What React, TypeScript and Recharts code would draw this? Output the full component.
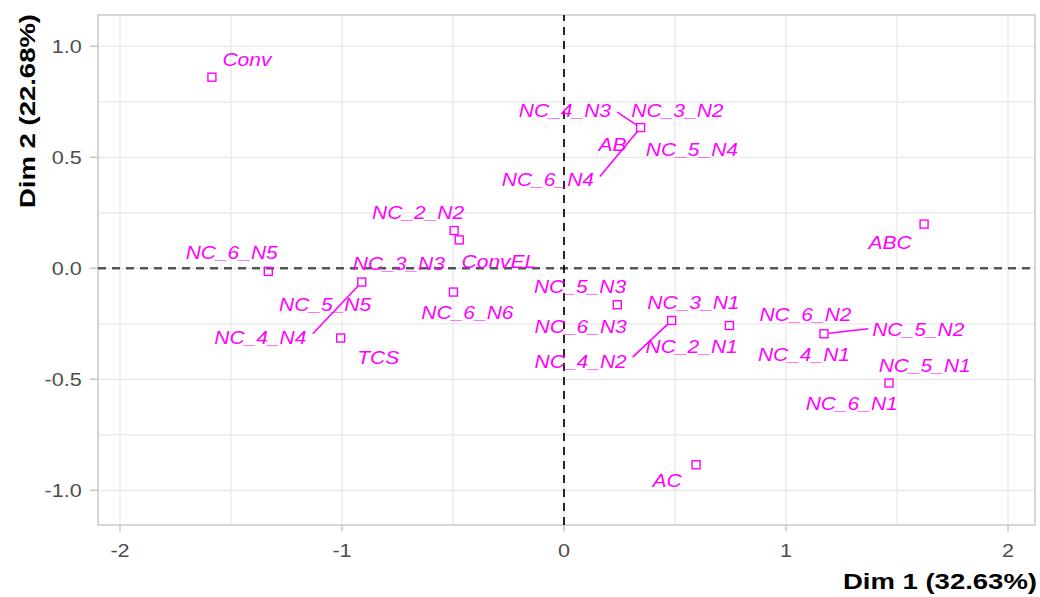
import React from 'react';
import {
  ScatterChart,
  Scatter,
  XAxis,
  YAxis,
  CartesianGrid,
  ReferenceLine,
  ReferenceArea,
} from 'recharts';

// ---------------- data ----------------
const pointNames = [
  'Conv', 'NC_6_N5', 'NC_2_N2', 'ConvEL', 'NC_3_N3', 'NC_5_N5', 'NC_4_N4', 'TCS', 'NC_6_N6',
  'NC_4_N3', 'NC_3_N2', 'AB', 'NC_5_N4', 'NC_6_N4', 'NC_5_N3', 'NC_6_N3', 'NC_4_N2', 'NC_2_N1',
  'NC_3_N1', 'NC_6_N2', 'NC_5_N2', 'NC_4_N1', 'NC_5_N1', 'NC_6_N1', 'ABC', 'AC',
];
const dim1 = [
  -1.586, -1.332, -0.495, -0.472, -0.911, -0.911, -0.911, -1.006, -0.498,
  0.345, 0.345, 0.345, 0.345, 0.345, 0.24, 0.24, 0.485, 0.485,
  0.745, 1.171, 1.171, 1.171, 1.464, 1.464, 1.622, 0.595,
];
const dim2 = [
  0.861, -0.014, 0.17, 0.128, -0.062, -0.062, -0.062, -0.314, -0.107,
  0.634, 0.634, 0.634, 0.634, 0.634, -0.164, -0.164, -0.235, -0.235,
  -0.258, -0.295, -0.295, -0.295, -0.517, -0.517, 0.199, -0.885,
];
const xTicks = [-2, -1.5, -1, -0.5, 0, 0.5, 1, 1.5, 2];
const yTicks = [-1, -0.75, -0.5, -0.25, 0, 0.25, 0.5, 0.75, 1];
const xTitle = 'Dim 1 (32.63%)';
const yTitle = 'Dim 2 (22.68%)';

// ---------------- layout (repelled label offsets, px, relative to point) ----------------
const labelOffset: Record<string, [number, number]> = {
  Conv: [35, -17.3],
  NC_6_N5: [-36.6, -18.7],
  NC_2_N2: [-36, -17.4],
  ConvEL: [39.7, 21.7],
  NC_3_N3: [37.1, -18],
  NC_5_N5: [-36.7, 22.7],
  NC_4_N4: [-101.4, 56],
  TCS: [37.6, 20],
  NC_6_N6: [14, 21],
  NC_4_N3: [-75.7, -17],
  NC_3_N2: [36.8, -17],
  AB: [-28, 17.3],
  NC_5_N4: [51.3, 22.3],
  NC_6_N4: [-92.7, 52.3],
  NC_5_N3: [-37.3, -18.5],
  NC_6_N3: [-36.6, 21.7],
  NC_4_N2: [-91, 41],
  NC_2_N1: [20, 26.6],
  NC_3_N1: [-36, -23],
  NC_6_N2: [-18.5, -19],
  NC_5_N2: [94.3, -4],
  NC_4_N1: [-20, 21],
  NC_5_N1: [35.7, -17.3],
  NC_6_N1: [-37.3, 21],
  ABC: [-34, 19],
  AC: [-29, 16],
};
const segmentStart: Record<string, [number, number]> = {
  NC_4_N4: [-49, 51.7],
  NC_4_N3: [-23.4, -15.4],
  NC_6_N4: [-40.7, 49],
  NC_4_N2: [-39, 36.6],
  NC_5_N2: [44.3, -5],
};

const data = pointNames.map((name, i) => ({
  name,
  x: dim1[i],
  y: dim2[i],
  // overlapping (identical) points only need their square drawn once
  first: pointNames.findIndex((_, j) => dim1[j] === dim1[i] && dim2[j] === dim2[i]) === i,
}));

const X_MIN = -2.0991;
const X_MAX = 2.1216;
const Y_MIN = -1.1563;
const Y_MAX = 1.141;

const MAGENTA = '#FF00FF';
const FONT = '"Liberation Sans", Arial, Helvetica, sans-serif';
const STRETCH = 1.2;

const PointShape = (props: any) => {
  const { cx, cy, payload } = props;
  if (cx == null || cy == null) return null;
  const seg = segmentStart[payload.name];
  let line = null;
  if (seg) {
    const sx = cx + seg[0];
    const sy = cy + seg[1];
    const dx = sx - cx;
    const dy = sy - cy;
    const len = Math.sqrt(dx * dx + dy * dy) || 1;
    const ex = cx + (dx / len) * 5;
    const ey = cy + (dy / len) * 5;
    line = <line x1={sx} y1={sy} x2={ex} y2={ey} stroke={MAGENTA} strokeWidth={1.6} />;
  }
  return (
    <g>
      {line}
      {payload.first ? (
        <rect x={cx - 4} y={cy - 4} width={8} height={8} fill="none" stroke={MAGENTA} strokeWidth={1.4} />
      ) : null}
    </g>
  );
};

const LabelShape = (props: any) => {
  const { cx, cy, payload } = props;
  if (cx == null || cy == null) return null;
  const off = labelOffset[payload.name] || [0, -18];
  return (
    <text
      transform={`translate(${cx + off[0]},${cy + off[1] + 6.3}) scale(${STRETCH},1)`}
      textAnchor="middle"
      fontFamily={FONT}
      fontStyle="italic"
      fontSize={17.5}
      fill={MAGENTA}
    >
      {payload.name}
    </text>
  );
};

const isMajorX = (v: number) => Math.abs(v - Math.round(v)) < 1e-6;
const isMajorY = (v: number) => Math.abs(v * 2 - Math.round(v * 2)) < 1e-6;

const XTick = (props: any) => {
  const { x, y, payload } = props;
  const v = payload.value as number;
  if (!isMajorX(v)) return <g />;
  return (
    <g>
      <line x1={x} y1={y} x2={x} y2={y + 6.5} stroke="#C4C4C4" strokeWidth={1.5} />
      <text
        transform={`translate(${x},${y + 32}) scale(${STRETCH},1)`}
        textAnchor="middle"
        fontFamily={FONT}
        fontSize={18}
        fill="#4D4D4D"
      >
        {String(v)}
      </text>
    </g>
  );
};

const YTick = (props: any) => {
  const { x, y, payload } = props;
  const v = payload.value as number;
  if (!isMajorY(v)) return <g />;
  return (
    <g>
      <line x1={x - 8} y1={y} x2={x} y2={y} stroke="#C4C4C4" strokeWidth={1.5} />
      <text
        transform={`translate(${x - 16.3},${y + 6.5}) scale(${STRETCH},1)`}
        textAnchor="end"
        fontFamily={FONT}
        fontSize={18}
        fill="#4D4D4D"
      >
        {v.toFixed(1)}
      </text>
    </g>
  );
};

const XTitle = () => (
  <text
    transform={`translate(1037,588.5) scale(1.25,1)`}
    textAnchor="end"
    fontFamily={FONT}
    fontWeight="bold"
    fontSize={22}
    fill="#000000"
  >
    {xTitle}
  </text>
);

const YTitle = () => (
  <text
    transform={`translate(35,111) rotate(-90) scale(1.25,1)`}
    textAnchor="middle"
    fontFamily={FONT}
    fontWeight="bold"
    fontSize={22}
    fill="#000000"
  >
    {yTitle}
  </text>
);

export default function App() {
  return (
    <div style={{ position: 'absolute', left: 0, top: 0, width: 1040, height: 597, background: '#fff' }}>
      <ScatterChart width={1040} height={597} margin={{ top: 15, right: 5, bottom: 0, left: 0 }}>
        <CartesianGrid stroke="#E8E8E8" strokeWidth={1.3} />
        <XAxis
          type="number"
          dataKey="x"
          domain={[X_MIN, X_MAX]}
          allowDataOverflow
          ticks={xTicks}
          interval={0}
          height={72}
          axisLine={false}
          tickLine={false}
          tickSize={0}
          tickMargin={0}
          tick={(p: any) => <XTick {...p} />}
          label={<XTitle />}
        />
        <YAxis
          type="number"
          dataKey="y"
          domain={[Y_MIN, Y_MAX]}
          allowDataOverflow
          ticks={yTicks}
          interval={0}
          width={98}
          axisLine={false}
          tickLine={false}
          tickSize={0}
          tickMargin={0}
          tick={(p: any) => <YTick {...p} />}
          label={<YTitle />}
        />
        <ReferenceArea x1={X_MIN} x2={X_MAX} y1={Y_MIN} y2={Y_MAX} fill="none" fillOpacity={0} stroke="#CFCFCF" strokeWidth={1.6} />
        <ReferenceLine y={0} stroke="#555555" strokeWidth={2.5} strokeDasharray="8 6" />
        <ReferenceLine x={0} stroke="#111111" strokeWidth={1.8} strokeDasharray="8 6" />
        <Scatter data={data} shape={PointShape} isAnimationActive={false} />
        <Scatter data={data} shape={LabelShape} isAnimationActive={false} />
      </ScatterChart>
    </div>
  );
}
